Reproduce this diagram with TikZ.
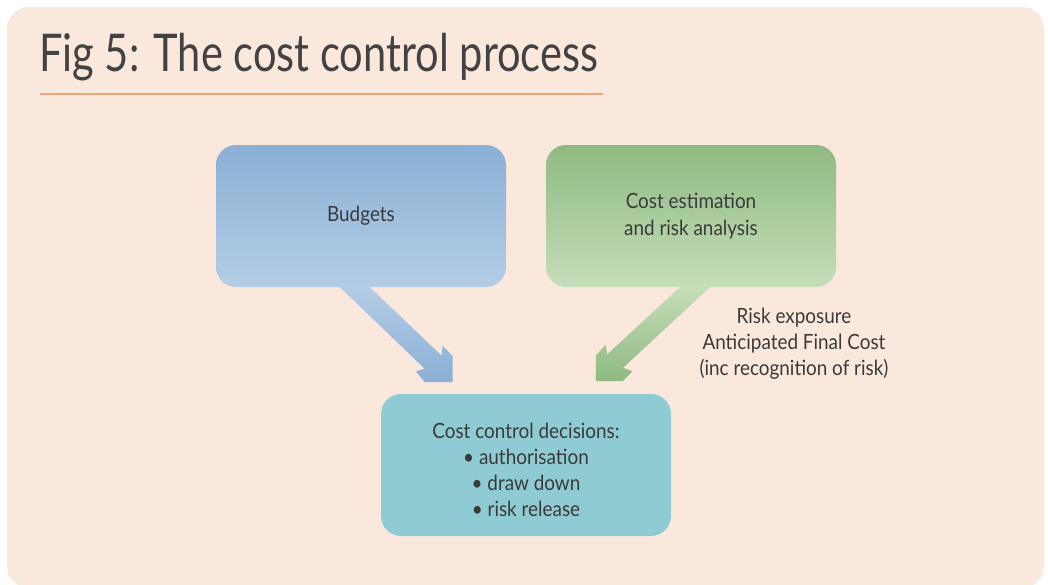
\documentclass[tikz,border=0pt]{standalone}
\usepackage{fontspec}
\setmainfont{Lato}
\newfontfamily\bodyfont[FakeStretch=0.9]{Lato}
\newfontfamily\titlefont[FakeStretch=0.8]{Lato}
\definecolor{panel}{RGB}{251,232,221}
\definecolor{txt}{RGB}{58,58,58}
\definecolor{titletxt}{RGB}{66,66,66}
\definecolor{rule}{RGB}{240,165,120}
\definecolor{blueT}{RGB}{138,176,213}
\definecolor{blueB}{RGB}{180,205,229}
\definecolor{greenT}{RGB}{142,186,128}
\definecolor{greenB}{RGB}{197,222,186}
\definecolor{teal}{RGB}{142,203,211}
\begin{document}
\begin{tikzpicture}[x=1pt,y=-1pt,
  box/.style={rounded corners=20pt, minimum width=290pt, minimum height=142pt, inner sep=0pt, align=center,
    font=\bodyfont\fontsize{21}{27}\selectfont, text=txt},
  lbl/.style={align=center, font=\bodyfont\fontsize{21}{26}\selectfont, text=txt, inner sep=0pt}]
\useasboundingbox (0,0) rectangle (1048,584);
\fill[white] (0,0) rectangle (1048,584);
\fill[panel, rounded corners=22pt] (7,7) rectangle (1044,588);
% title
\node[anchor=base west, inner sep=0pt, text=titletxt, font=\titlefont\fontsize{52}{60}\selectfont] (title) at (39,71) {Fig 5: The cost control process};
\coordinate (ruleL) at (40,94);
\coordinate (ruleR) at (603,94);
\draw[rule, line width=1.4pt] (ruleL) -- (ruleR);
% boxes
\node[box, top color=blueT, bottom color=blueB] (budgets) at (361,216) {Budgets};
\node[box, top color=greenT, bottom color=greenB] (estimation) at (691,216) {Cost estimation\\and risk analysis};
\node[box, fill=teal] (decisions) at (526,465) {};
\node[lbl] (decisionstext) at ([yshift=-5pt]decisions.center) {Cost control decisions:\\\textbullet{} authorisation\\\textbullet{} draw down\\\textbullet{} risk release};
\node[lbl] (risk) at (794,344) {Risk exposure\\Anticipated Final Cost\\(inc recognition of risk)};
% block arrows
\begin{scope}[shift={(budgets.south west)}]
\shade[top color=blueB, bottom color=blueT]
  (124,0) -- (154,0) -- (225.7,68.3) -- (226.7,58.3) -- (236.7,68.3) -- (236.7,95) -- (209,95)
  -- (200,84) -- (209,81.6) -- cycle;
\end{scope}
\begin{scope}[shift={(estimation.south west)}]
\shade[top color=greenB, bottom color=greenT]
  (134,0) -- (164,0) -- (77.3,80.6) -- (86.7,84) -- (77,94) -- (50,94) -- (50,68.3)
  -- (60,57.3) -- (61.3,67.3) -- cycle;
\end{scope}
\end{tikzpicture}
\end{document}
